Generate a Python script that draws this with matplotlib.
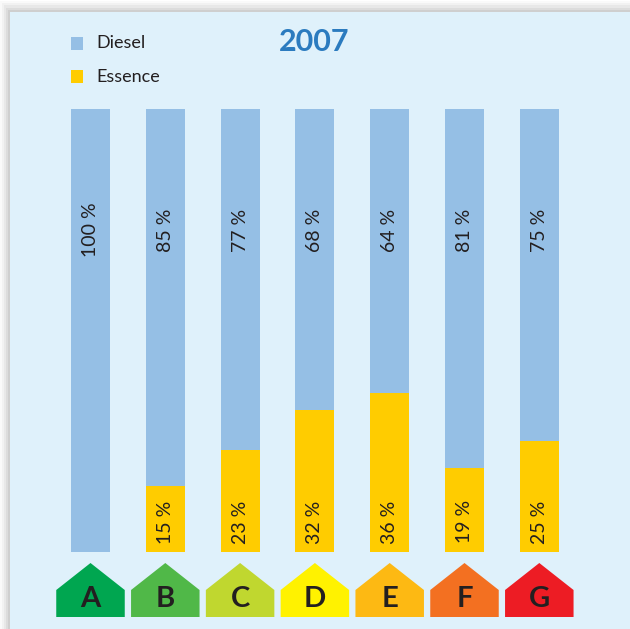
import matplotlib
matplotlib.use("Agg")
import matplotlib.pyplot as plt
from matplotlib.patches import Rectangle, Polygon

# ---- data ----
classes = ["A", "B", "C", "D", "E", "F", "G"]
diesel = [100, 85, 77, 68, 64, 81, 75]
essence = [0, 15, 23, 32, 36, 19, 25]
class_colors = ["#00a650", "#50b848", "#c0d72f", "#fff200", "#fdb913", "#f37021", "#ed1c24"]
title = "2007"
series_names = ["Diesel", "Essence"]
series_colors = ["#95bfe5", "#ffcc00"]

W, H = 630, 629
BG = "#dff1fb"
TXT = "#231f20"
FONT = ["Lato", "DejaVu Sans"]

fig = plt.figure(figsize=(W / 100, H / 100), dpi=100)
fig.patch.set_facecolor("white")

def fx(px):
    return px / W

def fy(py):
    return 1 - py / H

# shadow + panel
for i, a in enumerate([0.02, 0.03, 0.04, 0.05, 0.06]):
    off = 10 - 2 * i
    fig.patches.append(Rectangle((fx(10 - off), 0), 1, fy(12 - off * 1.1),
                                 transform=fig.transFigure, facecolor="black",
                                 alpha=a, edgecolor="none", zorder=-2))
fig.patches.append(Rectangle((fx(10), 0), 1, fy(12), transform=fig.transFigure,
                             facecolor=BG, edgecolor="none", zorder=-1))

# ---- bars axes ----
x0 = 90.5 - 0.5 * 74.8
x1 = 90.5 + 6.5 * 74.8
ax = fig.add_axes([fx(x0), fy(552), (x1 - x0) / W, 443 / H])
ax.set_zorder(2)
ax.patch.set_visible(False)
ax.set_xlim(-0.5, 6.5)
ax.set_ylim(0, 100)
ax.axis("off")
xs = list(range(len(classes)))
bw = 39 / 74.8
ax.bar(xs, essence, width=bw, color=series_colors[1], linewidth=0)
ax.bar(xs, diesel, bottom=essence, width=bw, color=series_colors[0], linewidth=0)
for i in xs:
    ax.text(i, 72.7, f"{diesel[i]} %", rotation=90, ha="center", va="center",
            fontsize=14, color=TXT, family=FONT)
    if essence[i] > 0:
        ax.text(i, 6.8, f"{essence[i]} %", rotation=90, ha="center", va="center",
                fontsize=14, color=TXT, family=FONT)

# ---- energy class arrows ----
ax2 = fig.add_axes([fx(x0), fy(617), (x1 - x0) / W, 54 / H])
ax2.set_zorder(2)
ax2.patch.set_visible(False)
ax2.set_xlim(-0.5, 6.5)
ax2.set_ylim(0, 1)
ax2.axis("off")
hw = 34.25 / 74.8
for i, (c, col) in enumerate(zip(classes, class_colors)):
    poly = Polygon([(i - hw, 0), (i + hw, 0), (i + hw, 0.5), (i, 1), (i - hw, 0.5)],
                   closed=True, facecolor=col, edgecolor="none")
    ax2.add_patch(poly)
    ax2.text(i, 0.34, c, ha="center", va="center", fontsize=21, fontweight="bold",
             color=TXT, family=FONT)

# ---- title & legend ----
fig.text(fx(314), fy(42), title, ha="center", va="center", fontsize=22,
         fontweight="bold", color="#2b7bbf", family=FONT)
for j, (name, col) in enumerate(zip(series_names, series_colors)):
    yc = 43.5 + 33 * j
    fig.patches.append(Rectangle((fx(71), fy(yc + 6)), 12 / W, 12 / H,
                                 transform=fig.transFigure, facecolor=col,
                                 edgecolor="none", zorder=3))
    fig.text(fx(96), fy(yc), name, ha="left", va="center", fontsize=13,
             color=TXT, family=FONT)

fig.savefig("out.png", dpi=100, facecolor=fig.get_facecolor())
